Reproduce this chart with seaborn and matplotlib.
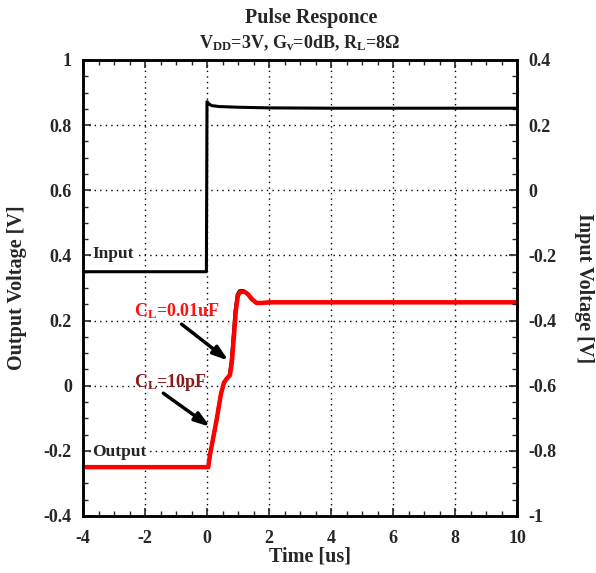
import matplotlib
matplotlib.use('Agg')
import matplotlib.pyplot as plt
import seaborn as sns
import pandas as pd

# input pulse (right axis, V)
t_in = [-4, -0.02, 0.0, 0.05, 0.15, 0.4, 1.0, 2.0, 4.0, 10]
v_in = [-0.25, -0.25, 0.272, 0.266, 0.26, 0.257, 0.255, 0.253, 0.252, 0.252]

# output, CL=0.01uF (left axis, V)
t_out = [-4, 0.04, 0.10, 0.18, 0.31, 0.45, 0.55, 0.64, 0.74, 0.80, 0.86, 0.93, 1.0, 1.08, 1.2, 1.32, 1.45, 1.6, 1.75, 2.0, 3, 10]
v_out = [-0.25, -0.25, -0.21, -0.17, -0.105, -0.025, 0.010, 0.022, 0.032, 0.07, 0.14, 0.23, 0.278, 0.288, 0.289, 0.281, 0.266, 0.254, 0.254, 0.256, 0.256, 0.256]

# output, CL=10pF (mostly hidden under the red one)
t_out2 = [-4, 0.04, 0.10, 0.18, 0.31, 0.45, 0.55, 0.64, 0.72, 0.78, 0.84, 0.91, 0.98, 1.05, 1.16, 1.30, 1.43, 1.58, 1.75, 2.0, 3, 10]
v_out2 = [-0.25, -0.25, -0.21, -0.17, -0.105, -0.025, 0.010, 0.022, 0.032, 0.07, 0.14, 0.23, 0.280, 0.291, 0.292, 0.283, 0.266, 0.254, 0.254, 0.256, 0.256, 0.256]

x_ticks = [-4, -2, 0, 2, 4, 6, 8, 10]
y_ticks = [-0.4, -0.2, 0, 0.2, 0.4, 0.6, 0.8, 1]
y2_ticks = [-1, -0.8, -0.6, -0.4, -0.2, 0, 0.2, 0.4]

sns.set_style('ticks')
plt.rcParams['font.family'] = ['Liberation Serif', 'DejaVu Serif']
plt.rcParams['font.weight'] = 'bold'
plt.rcParams['mathtext.fontset'] = 'custom'
plt.rcParams['mathtext.rm'] = 'Liberation Serif:bold'
plt.rcParams['mathtext.it'] = 'Liberation Serif:bold'
plt.rcParams['mathtext.default'] = 'rm'

fig = plt.figure(figsize=(5.96, 5.73), dpi=100)
ax = fig.add_axes([83/596, 1-516/573, 434/596, 456/573])
ax2 = ax.twinx()

df_in = pd.DataFrame({'t': t_in, 'v': v_in})
df_out = pd.DataFrame({'t': t_out, 'v': v_out})
df_out2 = pd.DataFrame({'t': t_out2, 'v': v_out2})

sns.lineplot(data=df_out2, x='t', y='v', ax=ax, color='black', lw=2.4, sort=False, zorder=3)
sns.lineplot(data=df_out, x='t', y='v', ax=ax, color='#ff0000', lw=3.2, sort=False, zorder=4)
sns.lineplot(data=df_in, x='t', y='v', ax=ax2, color='black', lw=2.2, sort=False)

ax.set_xlim(-4, 10)
ax.set_ylim(-0.4, 1)
ax2.set_ylim(-1, 0.4)
ax.set_xticks(x_ticks)
ax.set_yticks(y_ticks)
ax2.set_yticks(y2_ticks)
ax.set_xticklabels([f'{v:g}' for v in x_ticks])
ax.set_yticklabels([f'{v:g}' for v in y_ticks])
ax2.set_yticklabels([f'{v:g}' for v in y2_ticks])
ax.xaxis.set_minor_locator(matplotlib.ticker.MultipleLocator(0.5))
ax.yaxis.set_minor_locator(matplotlib.ticker.MultipleLocator(0.05))
ax2.yaxis.set_minor_locator(matplotlib.ticker.MultipleLocator(0.05))

ax.grid(True, which='major', color='black', linestyle=(0, (1, 3)), lw=1)
ax.set_axisbelow(True)
ax.tick_params(which='major', direction='in', length=6, width=1.2, top=True, right=False,
               labelsize=13, pad=8)
ax.tick_params(axis='x', which='major', pad=10)
ax.tick_params(which='minor', direction='in', length=3.5, width=1, top=True, right=False)
ax2.tick_params(which='major', direction='in', length=6, width=1.2, labelsize=13, pad=8)
ax2.tick_params(which='minor', direction='in', length=3.5, width=1)
for a in (ax, ax2):
    for s in a.spines.values():
        s.set_linewidth(1.8)
        s.set_color('black')
    for lab in a.get_xticklabels() + a.get_yticklabels():
        lab.set_fontweight('bold')

ax.set_xlabel('Time [us]', fontsize=14.5, fontweight='bold', va='center')
ax.xaxis.set_label_coords((310 - 83) / 434, -(556 - 516) / 456)
ax.set_ylabel('Output Voltage [V]', fontsize=14.5, fontweight='bold', va='center')
ax.yaxis.set_label_coords(-(83 - 17) / 434, 0.5)
ax2.set_ylabel('Input Voltage [V]', fontsize=14.5, fontweight='bold', rotation=-90, va='center')
ax2.yaxis.set_label_coords(1 + (584 - 517) / 434, 0.5)
ax2.set_zorder(ax.get_zorder() + 1)
ax2.patch.set_visible(False)

fig.text(311/596, 1-18/573, 'Pulse Responce', ha='center', va='center', fontsize=14.5, fontweight='bold')
fig.text(300/596, 1-43/573, r'V$_{DD}$=3V, G$_{v}$=0dB, R$_{L}$=8Ω', ha='center', va='center',
         fontsize=13, fontweight='bold')

box = dict(facecolor='white', edgecolor='none', pad=1)
ax.text(-3.68, 0.404, 'Input', ha='left', va='center', fontsize=12.5, fontweight='bold', bbox=box, zorder=5)
ax.text(-3.69, -0.203, 'Output', ha='left', va='center', fontsize=12.5, fontweight='bold', bbox=box, zorder=5)

arrow = dict(arrowstyle='-|>,head_length=0.9,head_width=0.3', color='black', lw=2.5, shrinkA=0, shrinkB=0)
ax.text(-0.97, 0.229, r'C$_{L}$=0.01uF', ha='center', va='center', fontsize=13, fontweight='bold', color='#ff1010', zorder=6)
ax.annotate('', xy=(0.69, 0.077), xytext=(-0.82, 0.189), arrowprops=arrow, zorder=6)
ax.text(-1.17, 0.010, r'C$_{L}$=10pF', ha='center', va='center', fontsize=13, fontweight='bold', color='#8b1a1a', zorder=6)
ax.annotate('', xy=(0.10, -0.126), xytext=(-1.41, -0.023), arrowprops=arrow, zorder=6)

fig.savefig('out.png', dpi=100)
